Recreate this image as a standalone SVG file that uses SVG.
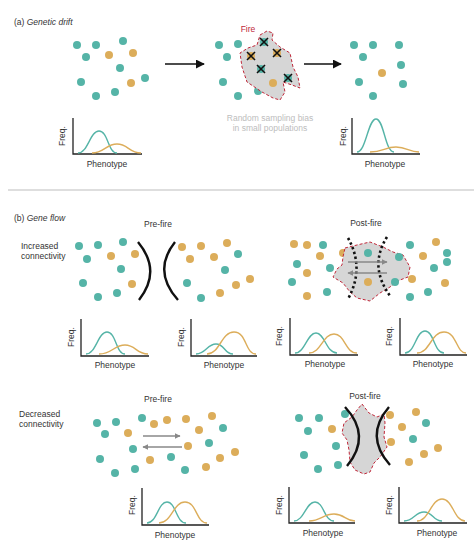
<svg xmlns="http://www.w3.org/2000/svg" width="474" height="547" viewBox="0 0 474 547">
<defs>
<style>
text{font-family:"Liberation Sans",Arial,sans-serif;fill:#333;font-size:8.5px}
.t{fill:#55b4a7}.g{fill:#dcad5a}
.ax{fill:none;stroke:#222;stroke-width:1.3}
.ct{fill:none;stroke:#55b4a7;stroke-width:1.4}
.cg{fill:none;stroke:#dcad5a;stroke-width:1.4}
.fire{fill:#d6d6d6;stroke:#c0283a;stroke-width:1;stroke-dasharray:3 2}
.x{stroke:#111;stroke-width:1.6;fill:none}
.arc{fill:none;stroke:#111;stroke-width:2.4}
.dot{fill:none;stroke:#111;stroke-width:2.6;stroke-dasharray:2.4 2.6}
.ga{stroke:#888;stroke-width:1.5;fill:none}
.mid{text-anchor:middle}
</style>
<marker id="ah" viewBox="0 0 10 10" refX="9" refY="5" markerWidth="6" markerHeight="6" orient="auto"><path d="M0,0 L10,5 L0,10 z" fill="#111"/></marker>
<marker id="gh" viewBox="0 0 10 10" refX="9" refY="5" markerWidth="4" markerHeight="4" orient="auto"><path d="M0,0 L10,5 L0,10 z" fill="#888"/></marker>
</defs>
<rect width="474" height="547" fill="#fff"/>

<text x="14" y="25">(a) <tspan font-style="italic">Genetic drift</tspan></text>
<text x="14" y="221">(b) <tspan font-style="italic">Gene flow</tspan></text>
<line x1="8" y1="190" x2="474" y2="190" stroke="#bdbdbd" stroke-width="1"/>

<g id="drift-before">
<g class="t"><circle cx="77" cy="45" r="4"/><circle cx="96" cy="45" r="4"/><circle cx="123" cy="41" r="4"/><circle cx="86" cy="57" r="4"/><circle cx="120" cy="68" r="4"/><circle cx="81" cy="82" r="4"/><circle cx="145" cy="78" r="4"/><circle cx="96" cy="96" r="4"/><circle cx="115" cy="92" r="4"/></g>
<g class="g"><circle cx="109" cy="55" r="4"/><circle cx="133" cy="53" r="4"/><circle cx="131" cy="83" r="4"/></g>
</g>

<g id="drift-fire">
<g class="t"><circle cx="219" cy="45" r="4"/><circle cx="238" cy="44" r="4"/><circle cx="227" cy="57" r="4"/><circle cx="223" cy="82" r="4"/><circle cx="238" cy="96" r="4"/><circle cx="258" cy="91" r="4"/></g>
<path class="fire" d="M260,35 L267,31 L273,33 L272,40 L280,47 L290,53 L293,67 L298,77 L300,88 L292,85 L283,82 L285,92 L280,100 L273,98 L262,92 L247,82 L242,67 L240,53 L248,48 L257,45 Z"/>
<text x="248" y="32" class="mid" style="fill:#c0283a">Fire</text>
<g class="t"><circle cx="264" cy="42" r="4"/><circle cx="261" cy="69" r="4"/><circle cx="288" cy="78" r="4"/></g>
<g class="g"><circle cx="251" cy="56" r="4"/><circle cx="277" cy="53" r="4"/><circle cx="273" cy="83" r="4"/></g>
<g class="x">
<path d="M260,38 l8,8 m0,-8 l-8,8"/><path d="M247,52 l8,8 m0,-8 l-8,8"/><path d="M273,49 l8,8 m0,-8 l-8,8"/><path d="M257,65 l8,8 m0,-8 l-8,8"/><path d="M284,74 l8,8 m0,-8 l-8,8"/>
</g>
<text x="270" y="121" class="mid" style="fill:#bdbdbd">Random sampling bias</text>
<text x="270" y="131" class="mid" style="fill:#bdbdbd">in small populations</text>
</g>

<g id="drift-after">
<g class="t"><circle cx="354" cy="45" r="4"/><circle cx="373" cy="45" r="4"/><circle cx="399" cy="45" r="4"/><circle cx="363" cy="57" r="4"/><circle cx="401" cy="65" r="4"/><circle cx="359" cy="82" r="4"/><circle cx="403" cy="84" r="4"/><circle cx="373" cy="96" r="4"/></g>
<circle class="g" cx="382" cy="73" r="4"/>
</g>

<g id="connectors">
<line x1="165" y1="64" x2="204" y2="64" stroke="#111" stroke-width="1.5" marker-end="url(#ah)"/>
<line x1="304" y1="64" x2="341" y2="64" stroke="#111" stroke-width="1.5" marker-end="url(#ah)"/>
</g>

<g id="chart-a1">
<path class="ax" d="M73,118 V154 H142"/>
<path class="ct" d="M78,153 C88,153 90,131 99,131 S108,153 117,153"/>
<path class="cg" d="M92,153 C104,153 106,144 117,144 S129,153 141,153"/>
<text transform="translate(65,136) rotate(-90)" class="mid">Freq.</text>
<text x="107" y="167" class="mid">Phenotype</text>
</g>
<g id="chart-a2">
<path class="ax" d="M352,118 V154 H420"/>
<path class="ct" d="M357,152 C366,152 368,119 376,119 S385,152 394,152"/>
<path class="cg" d="M370,152 C383,152 385,147 396,147 S409,152 419,152"/>
<text transform="translate(346,136) rotate(-90)" class="mid">Freq.</text>
<text x="385" y="167" class="mid">Phenotype</text>
</g>

<text x="21" y="249">Increased</text>
<text x="21" y="259">connectivity</text>
<text x="158" y="227" class="mid">Pre-fire</text>
<text x="366" y="226" class="mid">Post-fire</text>

<g id="inc-pre">
<g class="t"><circle cx="79" cy="246" r="4"/><circle cx="98" cy="245" r="4"/><circle cx="123" cy="242" r="4"/><circle cx="87" cy="259" r="4"/><circle cx="121" cy="269" r="4"/><circle cx="83" cy="283" r="4"/><circle cx="98" cy="297" r="4"/><circle cx="117" cy="293" r="4"/></g>
<g class="g"><circle cx="111" cy="256" r="4"/><circle cx="135" cy="254" r="4"/><circle cx="132" cy="284" r="4"/></g>
<path class="arc" d="M138,242 Q162,271 139,300"/>
<path class="arc" d="M175,242 Q152,271 178,300"/>
<g class="g"><circle cx="182" cy="247" r="4"/><circle cx="201" cy="246" r="4"/><circle cx="227" cy="243" r="4"/><circle cx="190" cy="259" r="4"/><circle cx="214" cy="257" r="4"/><circle cx="236" cy="285" r="4"/><circle cx="250" cy="279" r="4"/><circle cx="220" cy="293" r="4"/></g>
<g class="t"><circle cx="238" cy="254" r="4"/><circle cx="225" cy="270" r="4"/><circle cx="187" cy="283" r="4"/><circle cx="201" cy="298" r="4"/></g>
</g>

<g id="inc-post">
<g class="g"><circle cx="294" cy="244" r="4"/><circle cx="307" cy="245" r="4"/><circle cx="320" cy="256" r="4"/><circle cx="307" cy="273" r="4"/><circle cx="307" cy="296" r="4"/><circle cx="343" cy="253" r="4"/></g>
<g class="t"><circle cx="323" cy="245" r="4"/><circle cx="297" cy="264" r="4"/><circle cx="292" cy="282" r="4"/><circle cx="330" cy="268" r="4"/><circle cx="327" cy="292" r="4"/></g>
<path class="fire" d="M345,248 L357,245 L370,242 L383,247 L393,252 L403,255 L410,267 L408,277 L400,280 L390,287 L380,293 L370,301 L357,298 L350,292 L343,283 L333,277 L337,269 L342,265 L343,257 Z"/>
<circle class="t" cx="368" cy="253" r="4"/><circle class="g" cx="368" cy="282" r="4"/>
<path class="dot" d="M348,238 Q365,268 348,299"/>
<path class="dot" d="M387,237 Q368,267 391,297"/>
<line class="ga" x1="348" y1="262" x2="387" y2="262" marker-end="url(#gh)"/>
<line class="ga" x1="387" y1="273" x2="348" y2="273" marker-end="url(#gh)"/>
<g class="t"><circle cx="399" cy="257" r="4"/><circle cx="410" cy="245" r="4"/><circle cx="395" cy="282" r="4"/><circle cx="410" cy="297" r="4"/><circle cx="428" cy="292" r="4"/><circle cx="447" cy="253" r="4"/><circle cx="447" cy="262" r="4"/><circle cx="434" cy="268" r="4"/></g>
<g class="g"><circle cx="436" cy="242" r="4"/><circle cx="423" cy="256" r="4"/><circle cx="412" cy="279" r="4"/><circle cx="445" cy="283" r="4"/></g>
</g>

<g id="chart-b1">
<path class="ax" d="M81,319 V356 H149"/>
<path class="ct" d="M86,354 C96,354 98,332 107,332 S116,354 125,354"/>
<path class="cg" d="M99,354 C112,354 114,345 125,345 S136,354 148,354"/>
<text transform="translate(74,337) rotate(-90)" class="mid">Freq.</text>
<text x="115" y="368" class="mid">Phenotype</text>
</g>
<g id="chart-b2">
<path class="ax" d="M191,319 V356 H257"/>
<path class="ct" d="M196,354 C206,354 207,344 216,344 S224,354 233,354"/>
<path class="cg" d="M207,354 C220,354 221,332 234,332 S245,354 256,354"/>
<text transform="translate(184,337) rotate(-90)" class="mid">Freq.</text>
<text x="224" y="368" class="mid">Phenotype</text>
</g>
<g id="chart-b3">
<path class="ax" d="M290,318 V355 H358"/>
<path class="ct" d="M295,353 C305,353 307,333 316,333 S326,353 337,353"/>
<path class="cg" d="M309,353 C321,353 323,334 334,334 S345,353 357,353"/>
<text transform="translate(282,336) rotate(-90)" class="mid">Freq.</text>
<text x="325" y="367" class="mid">Phenotype</text>
</g>
<g id="chart-b4">
<path class="ax" d="M400,318 V355 H467"/>
<path class="ct" d="M405,353 C415,353 416,331 425,331 S434,353 444,353"/>
<path class="cg" d="M417,353 C430,353 431,332 444,332 S456,353 466,353"/>
<text transform="translate(392,336) rotate(-90)" class="mid">Freq.</text>
<text x="433" y="367" class="mid">Phenotype</text>
</g>

<text x="19" y="417">Decreased</text>
<text x="19" y="427">connectivity</text>
<text x="158" y="402" class="mid">Pre-fire</text>
<text x="365" y="399" class="mid">Post-fire</text>

<g id="dec-pre">
<g class="t"><circle cx="97" cy="423" r="4"/><circle cx="116" cy="422" r="4"/><circle cx="142" cy="418" r="4"/><circle cx="105" cy="434" r="4"/><circle cx="133" cy="449" r="4"/><circle cx="100" cy="459" r="4"/><circle cx="115" cy="473" r="4"/><circle cx="135" cy="469" r="4"/><circle cx="171" cy="457" r="4"/><circle cx="185" cy="470" r="4"/><circle cx="209" cy="443" r="4"/><circle cx="223" cy="428" r="4"/></g>
<g class="g"><circle cx="154" cy="424" r="4"/><circle cx="167" cy="420" r="4"/><circle cx="186" cy="419" r="4"/><circle cx="212" cy="416" r="4"/><circle cx="128" cy="433" r="4"/><circle cx="199" cy="430" r="4"/><circle cx="188" cy="446" r="4"/><circle cx="150" cy="460" r="4"/><circle cx="206" cy="467" r="4"/><circle cx="220" cy="458" r="4"/><circle cx="235" cy="452" r="4"/></g>
<line class="ga" x1="143" y1="436" x2="180" y2="436" marker-end="url(#gh)"/>
<line class="ga" x1="182" y1="447" x2="143" y2="447" marker-end="url(#gh)"/>
</g>

<g id="dec-post">
<g class="t"><circle cx="299" cy="418" r="4"/><circle cx="319" cy="418" r="4"/><circle cx="308" cy="431" r="4"/><circle cx="345" cy="414" r="4"/><circle cx="336" cy="446" r="4"/><circle cx="304" cy="455" r="4"/><circle cx="318" cy="469" r="4"/><circle cx="338" cy="465" r="4"/></g>
<circle class="g" cx="332" cy="429" r="4"/>
<path class="fire" d="M362,404 L369,413 L377,417 L384,414 L385,423 L384,437 L387,447 L380,457 L374,463 L370,472 L364,474 L355,470 L350,462 L349,450 L347,440 L342,433 L344,423 L352,417 L357,410 Z"/>
<path class="arc" d="M345,407 Q372,436 347,466"/>
<path class="arc" d="M389,407 Q364,436 390,465"/>
<g class="g"><circle cx="390" cy="415" r="4"/><circle cx="416" cy="412" r="4"/><circle cx="402" cy="427" r="4"/><circle cx="391" cy="442" r="4"/><circle cx="438" cy="448" r="4"/><circle cx="424" cy="454" r="4"/><circle cx="409" cy="462" r="4"/></g>
<g class="t"><circle cx="426" cy="423" r="4"/><circle cx="413" cy="439" r="4"/></g>
</g>

<g id="chart-c1">
<path class="ax" d="M142,488 V525 H209"/>
<path class="ct" d="M147,523 C157,523 158,502 167,502 S176,523 186,523"/>
<path class="cg" d="M159,523 C172,523 173,502 185,502 S196,523 207,523"/>
<text transform="translate(135,505) rotate(-90)" class="mid">Freq.</text>
<text x="175" y="538" class="mid">Phenotype</text>
</g>
<g id="chart-c2">
<path class="ax" d="M289,487 V523 H355"/>
<path class="ct" d="M294,521 C304,521 306,502 315,502 S324,521 334,521"/>
<path class="cg" d="M309,521 C321,521 323,514 334,514 S345,521 355,521"/>
<text transform="translate(282,505) rotate(-90)" class="mid">Freq.</text>
<text x="323" y="536" class="mid">Phenotype</text>
</g>
<g id="chart-c3">
<path class="ax" d="M399,487 V523 H467"/>
<path class="ct" d="M404,521 C414,521 415,512 424,512 S433,521 442,521"/>
<path class="cg" d="M417,521 C429,521 431,499 442,499 S454,521 465,521"/>
<text transform="translate(392,505) rotate(-90)" class="mid">Freq.</text>
<text x="437" y="536" class="mid">Phenotype</text>
</g>
</svg>
